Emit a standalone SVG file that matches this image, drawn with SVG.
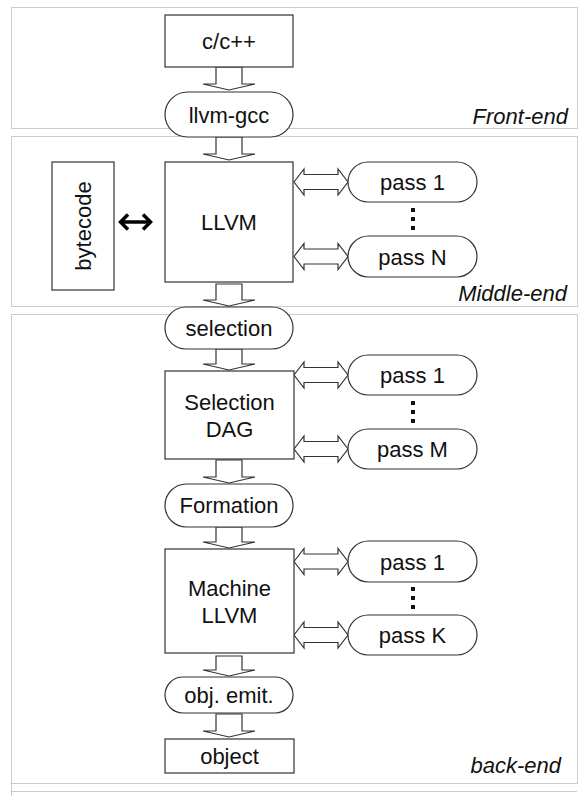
<svg xmlns="http://www.w3.org/2000/svg" width="580" height="796" viewBox="0 0 580 796">
<style>
.region{fill:none;stroke:#999;stroke-width:1;stroke-dasharray:1,1}
.box{fill:#fff;stroke:#333;stroke-width:1.2}
.arr{fill:#fff;stroke:#333;stroke-width:1.2;stroke-linejoin:miter}
.t{font-family:"Liberation Sans",Arial,sans-serif;font-size:22px;fill:#111;text-anchor:middle}
.lbl{font-family:"Liberation Sans",Arial,sans-serif;font-size:22px;font-style:italic;fill:#111;text-anchor:end}
.dot{fill:#111}
</style>
<rect width="580" height="796" fill="#fff"/>
<g id="regions">
<rect class="region" x="11.5" y="7.5" width="566" height="121"/>
<rect class="region" x="11.5" y="136.5" width="566" height="170"/>
<rect class="region" x="11.5" y="314.5" width="566" height="469"/>
<line class="region" x1="11.5" y1="791.5" x2="577.5" y2="791.5"/>
<line class="region" x1="11.5" y1="783.5" x2="11.5" y2="796"/>
<text class="lbl" x="568" y="124">Front-end</text>
<text class="lbl" x="567" y="301">Middle-end</text>
<text class="lbl" x="561" y="773">back-end</text>
</g>
<g id="connectors">
<polygon class="arr" points="216,67 242,67 242,84 255,84 229,90 203,84 216,84"/>
<polygon class="arr" points="216,137 242,137 242,154 255,154 229,160 203,154 216,154"/>
<polygon class="arr" points="216,284 242,284 242,300 255,300 229,306 203,300 216,300"/>
<polygon class="arr" points="216,349 242,349 242,364 255,364 229,370 203,364 216,364"/>
<polygon class="arr" points="216,460 242,460 242,477 255,477 229,483 203,477 216,477"/>
<polygon class="arr" points="216,527 242,527 242,542 255,542 229,548 203,542 216,542"/>
<polygon class="arr" points="216,656 242,656 242,670 255,670 229,676 203,670 216,670"/>
<polygon class="arr" points="216,714 242,714 242,731 255,731 229,737 203,731 216,731"/>
<g id="dbl">
<polygon class="arr" points="294,182 304,169 304,174.5 338,174.5 338,169 348,182 338,195 338,189.5 304,189.5 304,195"/>
<polygon class="arr" points="294,256.5 304,243.5 304,249 338,249 338,243.5 348,256.5 338,269.5 338,264 304,264 304,269.5"/>
<polygon class="arr" points="294,375 304,362 304,367.5 338,367.5 338,362 348,375 338,388 338,382.5 304,382.5 304,388"/>
<polygon class="arr" points="294,449 304,436 304,441.5 338,441.5 338,436 348,449 338,462 338,456.5 304,456.5 304,462"/>
<polygon class="arr" points="294,561.5 304,548.5 304,554 338,554 338,548.5 348,561.5 338,574.5 338,569 304,569 304,574.5"/>
<polygon class="arr" points="294,635 304,622 304,627.5 338,627.5 338,622 348,635 338,648 338,642.5 304,642.5 304,648"/>
</g>
<g id="bytecode-link" fill="none" stroke="#000" stroke-width="3.5" stroke-linecap="butt">
<line x1="121" y1="222" x2="150" y2="222"/>
<polyline points="128,214.5 120.5,222 128,229.5"/>
<polyline points="143,214.5 150.5,222 143,229.5"/>
</g>
</g>
<g id="n-cpp"><rect class="box" x="165" y="15" width="128" height="52"/><text class="t" x="229" y="49">c/c++</text></g>
<g id="n-llvmgcc"><rect class="box" x="165" y="92" width="128" height="45" rx="22.5"/><text class="t" x="229" y="123">llvm-gcc</text></g>
<g id="n-bytecode"><rect class="box" x="52" y="162" width="62" height="128"/><text class="t" transform="translate(91,226) rotate(-90)" x="0" y="0">bytecode</text></g>
<g id="n-llvm"><rect class="box" x="165" y="162" width="128" height="120"/><text class="t" x="229" y="230">LLVM</text></g>
<g id="n-pass1a"><rect class="box" x="348" y="162" width="129" height="40" rx="20"/><text class="t" x="412.5" y="190">pass 1</text></g>
<g id="n-dots1"><rect class="dot" x="411" y="208" width="4" height="4"/><rect class="dot" x="411" y="217" width="4" height="4"/><rect class="dot" x="411" y="226" width="4" height="4"/></g>
<g id="n-passN"><rect class="box" x="348" y="236" width="129" height="41" rx="20.5"/><text class="t" x="412.5" y="264.5">pass N</text></g>
<g id="n-selection"><rect class="box" x="165" y="307" width="128" height="42" rx="21"/><text class="t" x="229" y="336">selection</text></g>
<g id="n-seldag"><rect class="box" x="165" y="371" width="129" height="88"/><text class="t" x="229.5" y="410">Selection</text><text class="t" x="229.5" y="437">DAG</text></g>
<g id="n-pass1b"><rect class="box" x="348" y="355" width="129" height="40" rx="20"/><text class="t" x="412.5" y="383">pass 1</text></g>
<g id="n-dots2"><rect class="dot" x="411" y="401" width="4" height="4"/><rect class="dot" x="411" y="410" width="4" height="4"/><rect class="dot" x="411" y="419" width="4" height="4"/></g>
<g id="n-passM"><rect class="box" x="348" y="429" width="129" height="40" rx="20"/><text class="t" x="412.5" y="457">pass M</text></g>
<g id="n-formation"><rect class="box" x="165" y="484" width="128" height="43" rx="21.5"/><text class="t" x="229" y="513">Formation</text></g>
<g id="n-machine"><rect class="box" x="165" y="549" width="129" height="104"/><text class="t" x="229.5" y="596">Machine</text><text class="t" x="229.5" y="623">LLVM</text></g>
<g id="n-pass1c"><rect class="box" x="348" y="541" width="129" height="41" rx="20.5"/><text class="t" x="412.5" y="569.5">pass 1</text></g>
<g id="n-dots3"><rect class="dot" x="411" y="587" width="4" height="4"/><rect class="dot" x="411" y="596" width="4" height="4"/><rect class="dot" x="411" y="605" width="4" height="4"/></g>
<g id="n-passK"><rect class="box" x="348" y="615" width="129" height="40" rx="20"/><text class="t" x="412.5" y="643">pass K</text></g>
<g id="n-objemit"><rect class="box" x="165" y="677" width="128" height="36" rx="18"/><text class="t" x="229" y="703">obj. emit.</text></g>
<g id="n-object"><rect class="box" x="165" y="739" width="129" height="34"/><text class="t" x="229.5" y="764">object</text></g>
</svg>
